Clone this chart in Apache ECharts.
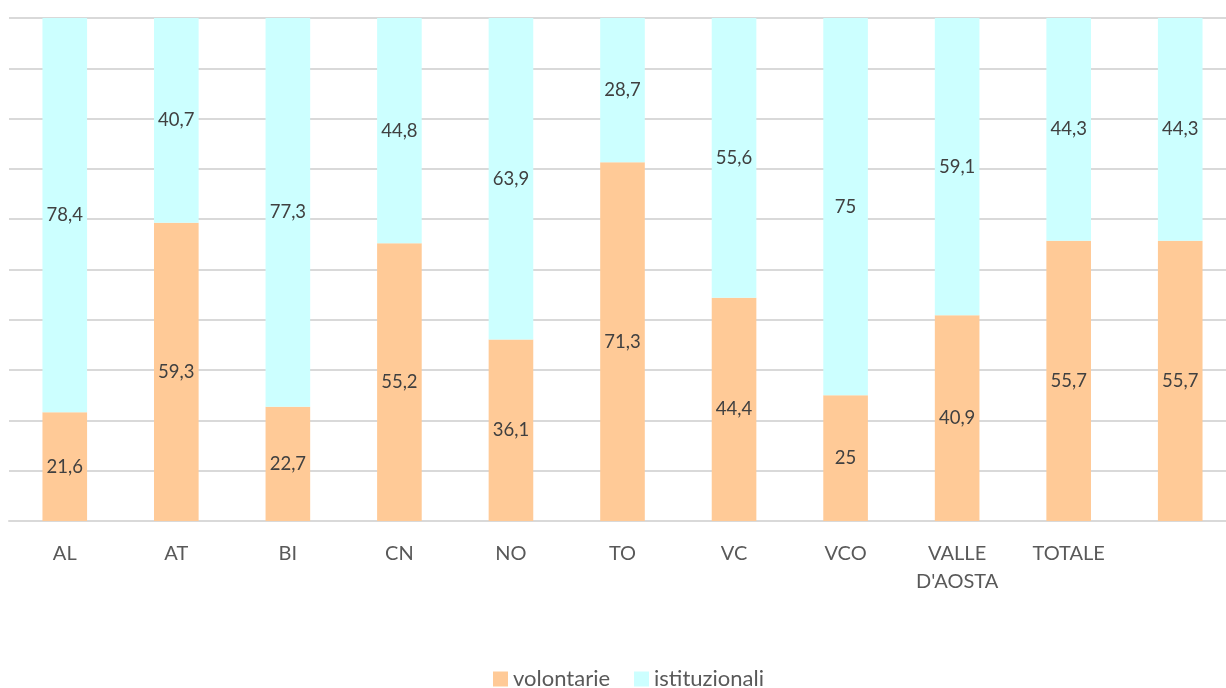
<!DOCTYPE html>
<html>
<head>
<meta charset="utf-8">
<script src="https://cdn.jsdelivr.net/npm/echarts@6/dist/echarts.min.js"></script>
<style>
  html, body { margin: 0; padding: 0; background: #fff; overflow: hidden; }
  /* il contenitore è un po' più largo della finestra: l'ultima colonna esce a destra */
  #chart { width: 1246px; height: 688px; }
</style>
</head>
<body>
<div id="chart"></div>
<script>
// categorie (province)
var categories = ["AL", "AT", "BI", "CN", "NO", "TO", "VC", "VCO", "VALLE\nD'AOSTA", "TOTALE", ""];
// percentuali
var volontarie = [21.6, 59.3, 22.7, 55.2, 36.1, 71.3, 44.4, 25, 40.9, 55.7, 55.7];
var istituzionali = [78.4, 40.7, 77.3, 44.8, 63.9, 28.7, 55.6, 75, 59.1, 44.3, 44.3];

var chart = echarts.init(document.getElementById("chart"));

// etichette con la virgola decimale
function fmt(p) {
  return String(p.value).replace(".", ",");
}

var labelStyle = {
  show: true,
  position: "inside",
  formatter: fmt,
  color: "#404040",
  fontSize: 18.5,
  fontFamily: "Lato"
};

var option = {
  animation: false,
  textStyle: { fontFamily: "Lato" },
  grid: { left: 9, right: 10, top: 18, bottom: 167 },
  legend: {
    bottom: -7,
    left: 488,
    itemWidth: 15,
    itemHeight: 15,
    itemGap: 24,
    icon: "rect",
    textStyle: { color: "#595959", fontSize: 22, fontFamily: "Lato" },
    data: ["volontarie", "istituzionali"]
  },
  xAxis: {
    type: "category",
    data: categories,
    axisLine: { lineStyle: { color: "#d9d9d9", width: 2 } },
    axisTick: { show: false },
    axisLabel: { color: "#595959", fontSize: 20, margin: 19, lineHeight: 28, interval: 0 }
  },
  yAxis: {
    type: "value",
    min: 0,
    max: 100,
    interval: 10,
    axisLabel: { show: false },
    axisLine: { show: false },
    axisTick: { show: false },
    splitLine: { lineStyle: { color: "#d9d9d9", width: 2 } }
  },
  series: [
    {
      name: "volontarie",
      type: "bar",
      stack: "tot",
      barWidth: "40%",
      data: volontarie,
      itemStyle: { color: "#FFCA97" },
      label: labelStyle
    },
    {
      name: "istituzionali",
      type: "bar",
      stack: "tot",
      barWidth: "40%",
      data: istituzionali,
      itemStyle: { color: "#CCFFFF" },
      label: labelStyle
    }
  ]
};

chart.setOption(option);
</script>
</body>
</html>
